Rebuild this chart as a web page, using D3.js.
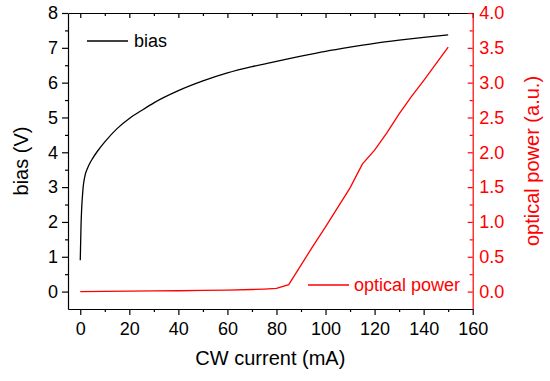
<!DOCTYPE html>
<html>
<head>
<meta charset="utf-8">
<script src="https://cdn.jsdelivr.net/npm/d3@7"></script>
<style>
  body { margin: 0; background: #fff; }
  svg { display: block; font-family: 'Liberation Sans', Arial, sans-serif; }
</style>
</head>
<body>
<svg id="chart" width="550" height="381"></svg>
<script>
// bias curve (mA, V)
const biasCurrent = [0, 0.3, 1, 2, 3, 4, 5, 7, 10, 15, 20, 25, 30, 40, 50, 60, 70, 80, 90, 100, 110, 120, 130, 140, 150];
const biasVolt = [0.9, 1.86, 2.85, 3.35, 3.55, 3.7, 3.82, 4.03, 4.3, 4.68, 4.97, 5.2, 5.42, 5.77, 6.05, 6.28, 6.46, 6.61, 6.76, 6.9, 7.02, 7.13, 7.22, 7.3, 7.37];

// optical power (mA, a.u.)
const powerCurrent = [0, 10, 20, 30, 40, 50, 60, 70, 75, 80, 85, 90, 95, 100, 105, 110, 115, 120, 125, 130, 135, 140, 145, 150];
const powerValue = [0, 0.003, 0.006, 0.009, 0.012, 0.016, 0.022, 0.03, 0.036, 0.045, 0.1, 0.38, 0.66, 0.93, 1.21, 1.49, 1.83, 2.03, 2.28, 2.55, 2.8, 3.03, 3.27, 3.51];

const xMajor = [0, 20, 40, 60, 80, 100, 120, 140, 160];
const xMinor = [10, 30, 50, 70, 90, 110, 130, 150];
const yLeftMajor = [0, 1, 2, 3, 4, 5, 6, 7, 8];
const yLeftMinor = [0.5, 1.5, 2.5, 3.5, 4.5, 5.5, 6.5, 7.5];
const yRightMajor = [0, 0.5, 1, 1.5, 2, 2.5, 3, 3.5, 4];
const yRightMinor = [0.25, 0.75, 1.25, 1.75, 2.25, 2.75, 3.25, 3.75];

const plot = { left: 68, right: 472.7, top: 13, bottom: 309 };
const red = '#ff0000';
const tickFont = 18;

const svg = d3.select('#chart');

const x = d3.scaleLinear().domain([-5, 160]).range([plot.left, plot.right]);
const yL = d3.scaleLinear().domain([-0.5, 8]).range([plot.bottom, plot.top]);
const yR = d3.scaleLinear().domain([-0.25, 4]).range([plot.bottom, plot.top]);

function styleAxis(g, color) {
  g.selectAll('path, line').attr('stroke', color).attr('stroke-width', 1.2);
  g.selectAll('text')
    .attr('fill', color)
    .attr('font-size', tickFont)
    .attr('font-family', "'Liberation Sans', Arial, sans-serif");
}

// bottom axis
svg.append('g')
  .attr('transform', `translate(0,${plot.bottom})`)
  .call(d3.axisBottom(x).tickValues(xMajor).tickSize(6).tickSizeOuter(0).tickPadding(7))
  .call((g) => styleAxis(g, '#000'));
svg.append('g')
  .attr('transform', `translate(0,${plot.bottom})`)
  .call(d3.axisBottom(x).tickValues(xMinor).tickSize(3).tickFormat(''))
  .call((g) => g.select('.domain').remove())
  .call((g) => styleAxis(g, '#000'));

// top axis, ticks inside
svg.append('g')
  .attr('transform', `translate(0,${plot.top})`)
  .call(d3.axisTop(x).tickValues(xMajor).tickSize(-5).tickSizeOuter(0).tickFormat(''))
  .call((g) => styleAxis(g, '#000'));
svg.append('g')
  .attr('transform', `translate(0,${plot.top})`)
  .call(d3.axisTop(x).tickValues(xMinor).tickSize(-3).tickFormat(''))
  .call((g) => g.select('.domain').remove())
  .call((g) => styleAxis(g, '#000'));

// left axis
svg.append('g')
  .attr('transform', `translate(${plot.left},0)`)
  .call(d3.axisLeft(yL).tickValues(yLeftMajor).tickSize(6).tickSizeOuter(0).tickPadding(4))
  .call((g) => styleAxis(g, '#000'));
svg.append('g')
  .attr('transform', `translate(${plot.left},0)`)
  .call(d3.axisLeft(yL).tickValues(yLeftMinor).tickSize(3).tickFormat(''))
  .call((g) => g.select('.domain').remove())
  .call((g) => styleAxis(g, '#000'));

// right axis (red), ticks inside
svg.append('g')
  .attr('transform', `translate(${plot.right},0)`)
  .call(d3.axisRight(yR).tickValues(yRightMajor).tickSize(-5).tickSizeOuter(0)
    .tickPadding(6.5).tickFormat(d3.format('.1f')))
  .call((g) => styleAxis(g, red));
svg.append('g')
  .attr('transform', `translate(${plot.right},0)`)
  .call(d3.axisRight(yR).tickValues(yRightMinor).tickSize(-3).tickFormat(''))
  .call((g) => g.select('.domain').remove())
  .call((g) => styleAxis(g, red));

// curves
const biasLine = d3.line()
  .x((d, i) => x(biasCurrent[i]))
  .y((d) => yL(d))
  .curve(d3.curveMonotoneX);
svg.append('path')
  .attr('d', biasLine(biasVolt))
  .attr('fill', 'none')
  .attr('stroke', '#000')
  .attr('stroke-width', 1.3);

const powerLine = d3.line()
  .x((d, i) => x(powerCurrent[i]))
  .y((d) => yR(d));
svg.append('path')
  .attr('d', powerLine(powerValue))
  .attr('fill', 'none')
  .attr('stroke', red)
  .attr('stroke-width', 1.3);

// legends
svg.append('line')
  .attr('x1', 87).attr('x2', 128).attr('y1', 41).attr('y2', 41)
  .attr('stroke', '#000').attr('stroke-width', 1.3);
svg.append('text')
  .attr('x', 134).attr('y', 47)
  .attr('font-size', 18)
  .attr('fill', '#000')
  .text('bias');

svg.append('line')
  .attr('x1', 308).attr('x2', 349).attr('y1', 285).attr('y2', 285)
  .attr('stroke', red).attr('stroke-width', 1.3);
svg.append('text')
  .attr('x', 354).attr('y', 291)
  .attr('font-size', 18)
  .attr('fill', red)
  .text('optical power');

// axis titles
svg.append('text')
  .attr('x', (plot.left + plot.right) / 2)
  .attr('y', 365)
  .attr('text-anchor', 'middle')
  .attr('font-size', 20)
  .attr('fill', '#000')
  .text('CW current (mA)');

svg.append('text')
  .attr('transform', `translate(28,${(plot.top + plot.bottom) / 2}) rotate(-90)`)
  .attr('text-anchor', 'middle')
  .attr('font-size', 20)
  .attr('fill', '#000')
  .text('bias (V)');

svg.append('text')
  .attr('transform', `translate(539,${(plot.top + plot.bottom) / 2}) rotate(-90)`)
  .attr('text-anchor', 'middle')
  .attr('font-size', 20)
  .attr('fill', red)
  .text('optical power (a.u.)');
</script>
</body>
</html>
